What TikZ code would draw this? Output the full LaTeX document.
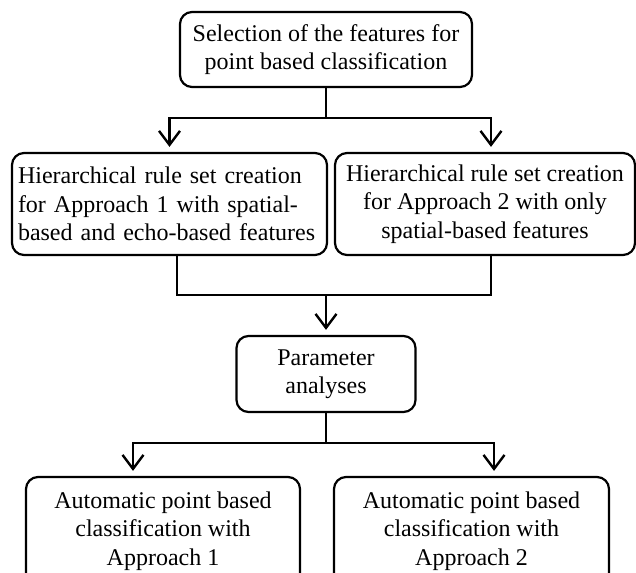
\documentclass[tikz,border=0pt]{standalone}
\usepackage{fontspec}
\setmainfont{Liberation Serif}
\usetikzlibrary{arrows.meta}
\begin{document}
\begin{tikzpicture}[
    x=1pt, y=-1pt,
    every node/.style={font=\fontsize{24}{28.5}\selectfont},
    stage/.style={draw=black, line width=2.2pt, rounded corners=12pt, inner sep=0pt, align=center},
    flow/.style={line width=2.4pt, -{Straight Barb[length=14pt, width=21pt]}, shorten >=5pt},
    link/.style={line width=2.4pt}
  ]
  \useasboundingbox (0,0) rectangle (636,572);
  \clip (0,0) rectangle (636,572);

  \node[stage, minimum width=292pt, minimum height=75pt] (select) at (326,49.5) {Selection of the features for\\point based classification};

  \node[stage, minimum width=315pt, minimum height=102pt, text width=303pt, inner xsep=6pt, align=left] (rule1) at (169.5,204) {Hierarchical rule set creation\\for Approach 1 with spatial-\\based and echo-based features};
  \node[stage, minimum width=300pt, minimum height=102pt] (rule2) at (485,204) {Hierarchical rule set creation\\for Approach 2 with only\\spatial-based features};

  \node[stage, minimum width=179pt, minimum height=76pt] (param) at (326,374) {Parameter\\analyses};

  \node[stage, minimum width=274pt, minimum height=108pt] (auto1) at (163,531) {Automatic point based\\classification with\\Approach 1};
  \node[stage, minimum width=275pt, minimum height=108pt] (auto2) at (471.5,531) {Automatic point based\\classification with\\Approach 2};

  \coordinate (split) at (326,118);
  \coordinate (merge) at (326,295);
  \coordinate (fork) at (326,443);

  \draw[link] (select.south) -- (split);
  \draw[flow] (split) -| (rule1.north);
  \draw[flow] (split) -| ([xshift=6pt]rule2.north);

  \draw[link] ([xshift=7.5pt]rule1.south) |- (merge);
  \draw[link] ([xshift=6pt]rule2.south) |- (merge);
  \draw[flow] (merge) -- (param.north);

  \draw[link] (param.south) -- (fork);
  \draw[flow] (fork) -| ([xshift=-30pt]auto1.north);
  \draw[flow] (fork) -| ([xshift=22.5pt]auto2.north);
\end{tikzpicture}
\end{document}
